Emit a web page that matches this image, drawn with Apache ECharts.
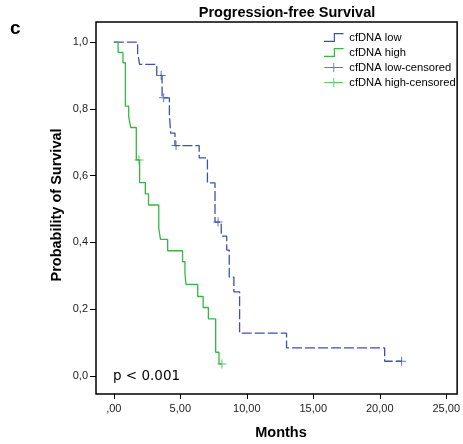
<!DOCTYPE html>
<html>
<head>
<meta charset="utf-8">
<script src="https://cdn.jsdelivr.net/npm/echarts@6/dist/echarts.min.js"></script>
<style>
  html, body { margin: 0; padding: 0; background: #fff; }
  #container { width: 463px; height: 444px; }
</style>
</head>
<body>
<div id="container"></div>
<script>
// step points [months, survival]
var lowSteps = [[0, 1], [1.79, 0.967], [1.94, 0.933], [3.23, 0.9], [3.63, 0.833], [4.18, 0.78],
  [4.28, 0.727], [4.6, 0.69], [6.42, 0.653], [7.04, 0.578], [7.61, 0.461], [8.08, 0.419],
  [8.49, 0.377], [8.68, 0.296], [9.03, 0.252], [9.46, 0.128], [12.99, 0.084], [20.37, 0.044],
  [21.64, 0.044]];
var highSteps = [[0, 1], [0.32, 0.969], [0.69, 0.938], [0.87, 0.808], [1.12, 0.776], [1.27, 0.744],
  [1.69, 0.647], [1.94, 0.579], [2.37, 0.545], [2.61, 0.512], [3.38, 0.442], [3.51, 0.409],
  [4.05, 0.375], [5.17, 0.342], [5.35, 0.307], [5.43, 0.274], [6.31, 0.238], [6.72, 0.205],
  [7.11, 0.171], [7.66, 0.071], [7.91, 0.036], [8.13, 0.036]];
var lowCensored = [[3.56, 0.9], [3.75, 0.833], [4.68, 0.69], [7.84, 0.461], [21.64, 0.044]];
var highCensored = [[1.89, 0.647], [8.13, 0.036]];
var xTicks = [0, 5, 10, 15, 20, 25];
var yTicks = [0, 0.2, 0.4, 0.6, 0.8, 1.0];
var names = ['cfDNA low', 'cfDNA high', 'cfDNA low-censored', 'cfDNA high-censored'];

var blue = '#3d52ae';
var green = '#34b843';
var plus = 'path://M4,0h1v4h4v1h-4v4h-1v-4h-4v-1h4z';
var stepIcon = 'path://M0,8h10v-8h10v1.2h-8.8v8h-11.2z';
var plusIcon = 'path://M10,0h1v4.5h10v1h-10v4.5h-1v-4.5h-10v-1h10z';
var font = '"Liberation Sans", Arial, sans-serif';

var myChart = echarts.init(document.getElementById('container'));
var option = {
  animation: false,
  textStyle: { fontFamily: font },
  title: {
    text: 'Progression-free Survival',
    left: 282, top: 0, textAlign: 'center',
    textStyle: { fontSize: 14.5, fontWeight: 'bold', color: '#000', fontFamily: font }
  },
  legend: {
    orient: 'vertical',
    left: 319, top: 27,
    itemWidth: 21, itemHeight: 9, itemGap: 4,
    textStyle: { fontSize: 11.2, color: '#000', fontFamily: font },
    data: [
      { name: names[0], icon: stepIcon },
      { name: names[1], icon: stepIcon },
      { name: names[2], icon: plusIcon },
      { name: names[3], icon: plusIcon }
    ]
  },
  grid: {
    left: 96, top: 22, right: 3, bottom: 50,
    show: true, borderColor: '#000', borderWidth: 1.5
  },
  xAxis: {
    type: 'value', min: -1.34, max: 25.82,
    axisLine: { show: false, onZero: false },
    splitLine: { show: false },
    axisTick: { customValues: xTicks, length: 5, lineStyle: { color: '#000' } },
    axisLabel: {
      customValues: xTicks, margin: 9, fontSize: 11, color: '#222', fontFamily: font,
      formatter: function (v) { return v === 0 ? ',00' : v.toFixed(2).replace('.', ','); }
    }
  },
  yAxis: {
    type: 'value', min: -0.054, max: 1.06,
    axisLine: { show: false, onZero: false },
    splitLine: { show: false },
    axisTick: { customValues: yTicks, length: 6, lineStyle: { color: '#000' } },
    axisLabel: {
      customValues: yTicks, margin: 8, fontSize: 11, color: '#222', fontFamily: font,
      formatter: function (v) { return v === 0 ? '0,0' : v.toFixed(1).replace('.', ','); }
    }
  },
  graphic: [
    { type: 'text', x: 10, y: 29,
      style: { text: 'c', font: 'bold 19px ' + font, fill: '#000',
        align: 'left', verticalAlign: 'middle' } },
    { type: 'text', x: 57, y: 205, rotation: Math.PI / 2,
      style: { text: 'Probability of Survival', font: 'bold 14.5px ' + font, fill: '#000',
        align: 'center', verticalAlign: 'middle' } },
    { type: 'text', x: 281, y: 433,
      style: { text: 'Months', font: 'bold 14.5px ' + font, fill: '#000',
        align: 'center', verticalAlign: 'middle' } },
    { type: 'text', x: 113, y: 376,
      style: { text: 'p < 0.001', font: '13.5px "DejaVu Sans", sans-serif', fill: '#000',
        align: 'left', verticalAlign: 'middle' } }
  ],
  series: [
    {
      name: names[0], type: 'line', step: 'end', data: lowSteps,
      showSymbol: false, symbol: 'none',
      lineStyle: { color: blue, width: 1.3, type: [10, 3] },
      itemStyle: { color: blue }
    },
    {
      name: names[1], type: 'line', step: 'end', data: highSteps,
      showSymbol: false, symbol: 'none',
      lineStyle: { color: green, width: 1.3 },
      itemStyle: { color: green }
    },
    {
      name: names[2], type: 'scatter', data: lowCensored,
      symbol: plus, symbolSize: 9, itemStyle: { color: blue }
    },
    {
      name: names[3], type: 'scatter', data: highCensored,
      symbol: plus, symbolSize: 9, itemStyle: { color: green }
    }
  ]
};
myChart.setOption(option);
</script>
</body>
</html>
